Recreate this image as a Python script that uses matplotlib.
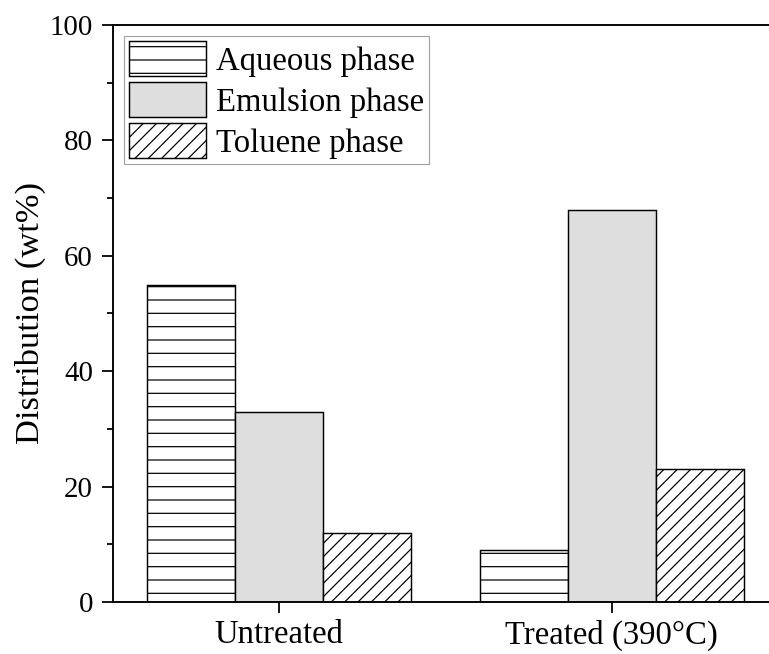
import matplotlib
matplotlib.use("Agg")
import matplotlib.pyplot as plt
from matplotlib.ticker import MultipleLocator
import numpy as np

plt.rcParams["font.family"] = ["Liberation Serif", "DejaVu Serif"]
plt.rcParams["hatch.linewidth"] = 1.1

# distribution of the product between the phases (wt%)
categories = ["Untreated", "Treated (390°C)"]
aqueous = [55, 9]
emulsion = [33, 68]
toluene = [12, 23]

series = [
    ("Aqueous phase", aqueous, "white", "-"),
    ("Emulsion phase", emulsion, "#dedede", ""),
    ("Toluene phase", toluene, "white", "//"),
]

fig = plt.figure(figsize=(769 / 80, 654 / 80), dpi=80)
ax = fig.add_axes([0.147, 0.0795, 0.8648, 0.8823])

x = np.arange(len(categories))
w = 0.265
for i, (name, vals, col, hatch) in enumerate(series):
    ax.bar(x + (i - 1) * w, vals, w, color=col, edgecolor="black",
           linewidth=1.3, hatch=hatch, label=name)

ax.set_xlim(-0.5, 1.5)
ax.set_ylim(0, 100)
ax.set_xticks(x)
ax.set_xticklabels(categories)
ax.set_yticks(range(0, 101, 20))
ax.yaxis.set_minor_locator(MultipleLocator(10))
ax.set_ylabel("Distribution (wt%)", fontsize=31, labelpad=3)
ax.tick_params(axis="both", which="major", width=1.6, length=10, direction="out")
ax.tick_params(axis="both", which="minor", width=1.6, length=5.5, direction="out")
ax.tick_params(axis="y", labelsize=26, pad=8)
ax.tick_params(axis="x", labelsize=29.5, pad=6)
for s in ax.spines.values():
    s.set_linewidth(1.7)
ax.spines["right"].set_visible(False)

leg = ax.legend(loc="upper left", fontsize=29.5, frameon=True, fancybox=False,
                edgecolor="#888888", handlelength=2.33, handleheight=1.25,
                labelspacing=0.17, handletextpad=0.3, borderpad=0.17,
                borderaxespad=0.33)
leg.get_frame().set_linewidth(1.0)

fig.savefig("out.png", dpi=80)
